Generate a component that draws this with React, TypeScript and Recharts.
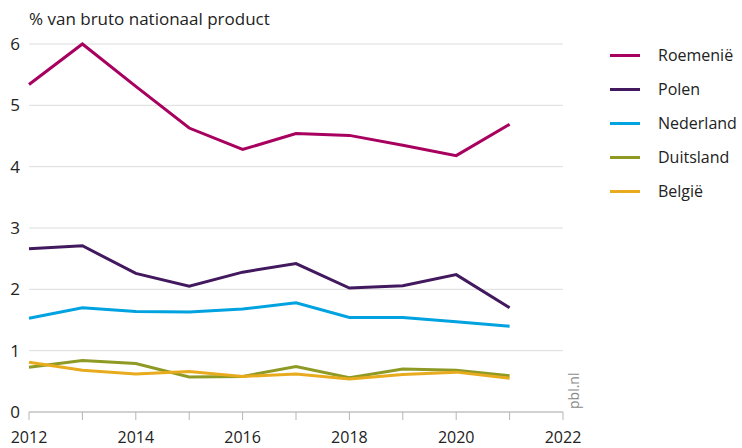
import React from 'react';
import { LineChart, Line, XAxis, YAxis, CartesianGrid } from 'recharts';

const years = [2012, 2013, 2014, 2015, 2016, 2017, 2018, 2019, 2020, 2021];
const roemenie = [5.34, 6.0, 5.31, 4.63, 4.28, 4.54, 4.51, 4.35, 4.18, 4.69];
const polen = [2.66, 2.71, 2.26, 2.05, 2.28, 2.42, 2.02, 2.06, 2.24, 1.70];
const nederland = [1.53, 1.70, 1.64, 1.63, 1.68, 1.78, 1.54, 1.54, 1.47, 1.40];
const duitsland = [0.73, 0.84, 0.79, 0.57, 0.58, 0.74, 0.56, 0.70, 0.68, 0.59];
const belgie = [0.81, 0.68, 0.62, 0.66, 0.58, 0.62, 0.54, 0.61, 0.65, 0.55];

const xTicks = [2012, 2013, 2014, 2015, 2016, 2017, 2018, 2019, 2020, 2021, 2022];
const yTicks = [0, 1, 2, 3, 4, 5, 6];
const title = '% van bruto nationaal product';
const source = 'pbl.nl';

const series = [
  { key: 'Roemenië', values: roemenie, color: '#a8005f' },
  { key: 'Polen', values: polen, color: '#42195e' },
  { key: 'Nederland', values: nederland, color: '#00a2e0' },
  { key: 'Duitsland', values: duitsland, color: '#8e9a24' },
  { key: 'België', values: belgie, color: '#e9ab1e' },
];

const data = years.map((y, i) => {
  const row: Record<string, number> = { year: y };
  series.forEach((s) => {
    row[s.key] = s.values[i];
  });
  return row;
});

const FONT = '"Open Sans", sans-serif';

export default function App() {
  return (
    <div style={{ position: 'absolute', left: 0, top: 0, width: 742, height: 448, background: '#fff' }}>
      <div
        style={{
          position: 'absolute',
          left: 29,
          top: 7,
          fontFamily: FONT,
          fontSize: 17,
          lineHeight: '24px',
          color: '#222',
          whiteSpace: 'nowrap',
        }}
      >
        {title}
      </div>
      <LineChart
        width={742}
        height={448}
        data={data}
        margin={{ top: 44, right: 179, bottom: 0, left: 0 }}
        style={{ fontFamily: FONT }}
      >
        <CartesianGrid horizontal vertical={false} stroke="#dcdcdc" strokeWidth={1} />
        <XAxis
          dataKey="year"
          type="number"
          domain={[2012, 2022]}
          ticks={xTicks}
          interval={0}
          tickFormatter={(v: number) => (v % 2 === 0 ? String(v) : '')}
          height={36}
          tickSize={8}
          tickMargin={12}
          axisLine={{ stroke: '#b5b5b5' }}
          tickLine={{ stroke: '#b5b5b5' }}
          tick={{ fill: '#222', fontSize: 16 }}
        />
        <YAxis
          domain={[0, 6]}
          ticks={yTicks}
          width={29}
          axisLine={false}
          tickLine={false}
          tickSize={0}
          tickMargin={9}
          tick={{ fill: '#222', fontSize: 17 }}
        />
        {series.map((s) => (
          <Line
            key={s.key}
            dataKey={s.key}
            stroke={s.color}
            strokeWidth={3}
            dot={false}
            activeDot={false}
            type="linear"
            isAnimationActive={false}
          />
        ))}
      </LineChart>
      <div
        style={{
          position: 'absolute',
          left: 610,
          top: 38,
          fontFamily: FONT,
          fontSize: 16,
          color: '#222',
        }}
      >
        {series.map((s) => (
          <div key={s.key} style={{ display: 'flex', alignItems: 'center', height: 34 }}>
            <div style={{ width: 30, height: 3, background: s.color, marginRight: 18 }} />
            <span style={{ whiteSpace: 'nowrap' }}>{s.key}</span>
          </div>
        ))}
      </div>
      <div
        style={{
          position: 'absolute',
          left: 566,
          top: 409,
          transform: 'rotate(-90deg)',
          transformOrigin: 'left top',
          fontFamily: FONT,
          fontSize: 14,
          lineHeight: '16px',
          color: '#8a8a8a',
          whiteSpace: 'nowrap',
        }}
      >
        {source}
      </div>
    </div>
  );
}
